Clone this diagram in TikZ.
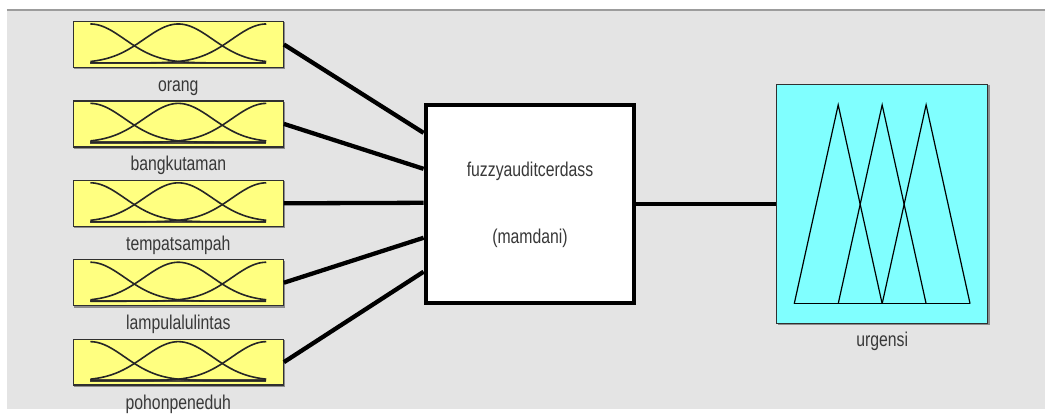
\documentclass[tikz,border=0pt]{standalone}
\usepackage{fontspec}
\setmainfont{Liberation Sans}
\usetikzlibrary{calc}
\definecolor{panel}{HTML}{E4E4E4}
\definecolor{rulegray}{HTML}{9C9C9C}
\definecolor{mfyellow}{HTML}{FFFF80}
\definecolor{mfcyan}{HTML}{80FFFF}
\definecolor{edgegray}{HTML}{303030}
\definecolor{txtgray}{HTML}{383838}
\newcommand\narrowtxt[1]{\scalebox{0.79}[1]{#1}}
\begin{document}
\begin{tikzpicture}[x=1pt,y=-1pt,
  inbox/.style={draw=edgegray, line width=1.3pt, fill=mfyellow,
    minimum width=210pt, minimum height=46pt, inner sep=0pt},
  outbox/.style={draw=edgegray, line width=1.3pt, fill=mfcyan,
    minimum width=211pt, minimum height=239pt, inner sep=0pt},
  fisbox/.style={draw=black, line width=4pt, fill=white,
    minimum width=209pt, minimum height=198pt, inner sep=0pt},
  boxshadow/.style={fill=black!45},
  wire/.style={draw=black, line width=4.3pt},
  mfcurve/.style={draw=black!85, line width=1.6pt},
  mfbase/.style={draw=black!80!yellow, line width=2.4pt},
  tri/.style={draw=black, line width=1.2pt, line join=miter},
  lbl/.style={font=\fontsize{20}{22}\selectfont, text=txtgray, inner sep=0pt, anchor=base}]
  % canvas and panel
  \fill[white] (0,0) rectangle (1046,410);
  \fill[panel] (7,11) rectangle (1046,409);
  \draw[rulegray, line width=2pt] (7,10) -- (1046,10);

  % input variables with gaussian membership functions
  \foreach \i/\txt [count=\k from 0] in
    {1/orang,2/bangkutaman,3/tempatsampah,4/lampulalulintas,5/pohonpeneduh}{
    \pgfmathsetmacro\cy{44.5+79.5*\k}
    \fill[boxshadow] (74.5,\cy-22) rectangle (285.5,\cy+25);
    \node[inbox] (in\i) at (178.5,\cy) {};
    \begin{scope}[shift={(in\i.center)}]
      \draw[mfbase] (-88,18.5) -- (88,18.5);
      \draw[mfcurve] plot[domain=-88:88, samples=70, smooth]
        (\x, {18.5-39*exp(-1*(((\x+88)/48.6)^2))});
      \draw[mfcurve] plot[domain=-88:88, samples=70, smooth]
        (\x, {18.5-39*exp(-1*(((\x)/48.6)^2))});
      \draw[mfcurve] plot[domain=-88:88, samples=70, smooth]
        (\x, {18.5-39*exp(-1*(((\x-88)/48.6)^2))});
    \end{scope}
    \node[lbl] (lab\i) at (178.5,\cy+47) {\narrowtxt{\txt}};
  }

  % inference system block
  \node[fisbox] (fis) at (530.5,204) {};
  \node[lbl] (fisname) at (530.5,177) {\narrowtxt{fuzzyauditcerdass}};
  \node[lbl] (fistype) at (530.5,244) {\narrowtxt{(mamdani)}};

  % output variable with triangular membership functions
  \fill[boxshadow] (778.5,85.5) rectangle (990.5,325.5);
  \node[outbox] (out) at (883,204) {};
  \begin{scope}[shift={(out.center)}]
    \draw[tri] (-88,100) -- (88,100);
    \draw[tri] (-88,100) -- (-44,-99) -- (0,100);
    \draw[tri] (-44,100) -- (0,-99) -- (44,100);
    \draw[tri] (0,100) -- (44,-99) -- (88,100);
  \end{scope}
  \node[lbl] (outlab) at (883,347) {\narrowtxt{urgensi}};

  % connections
  \foreach \i/\off in {1/-71,2/-35,3/-1,4/34,5/68}
    \draw[wire] (in\i.east) -- ($(fis.west)+(0,\off)$);
  \draw[wire] (fis.east) -- (fis.east -| out.west);
\end{tikzpicture}
\end{document}
